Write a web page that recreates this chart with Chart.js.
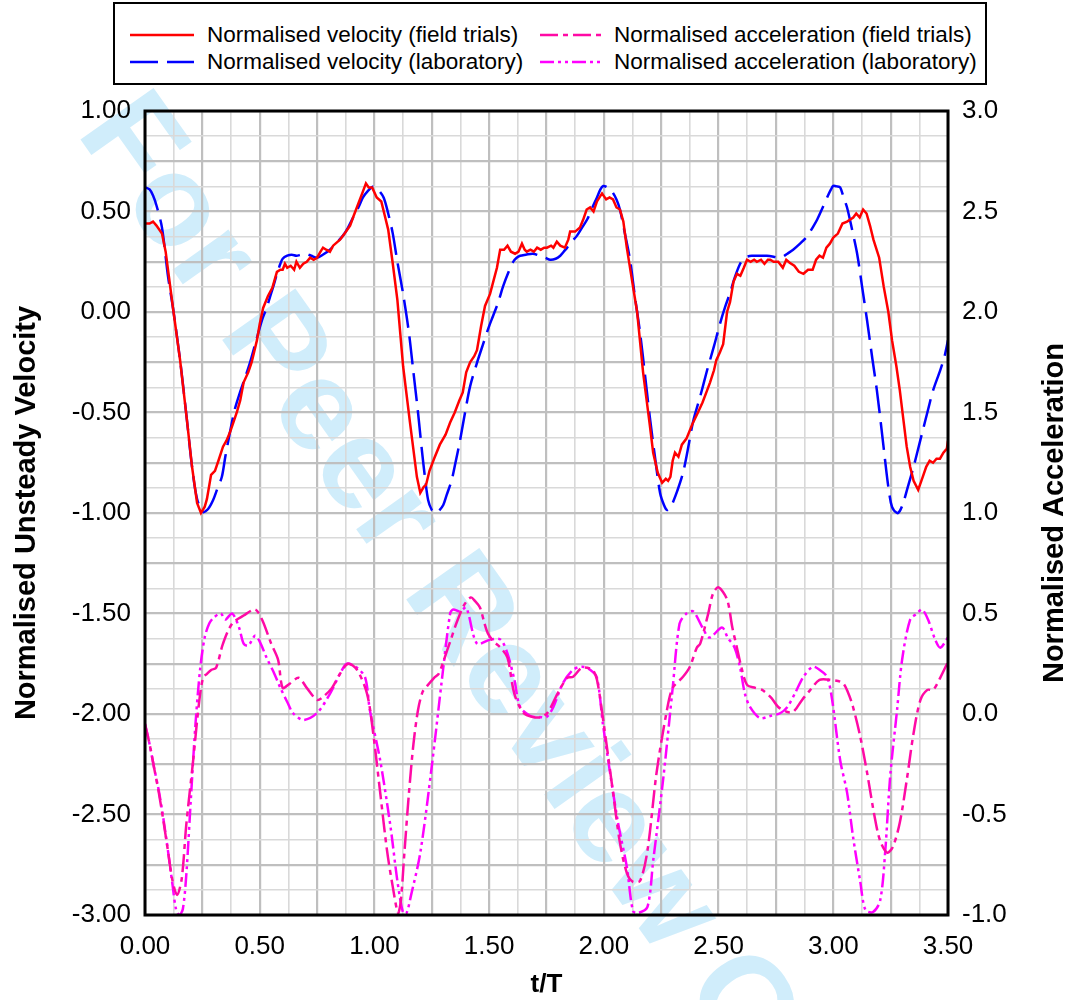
<!DOCTYPE html>
<html>
<head>
<meta charset="utf-8">
<script src="https://cdn.jsdelivr.net/npm/chart.js@4.4.1/dist/chart.umd.min.js"></script>
<style>
  body { margin: 0; background: #fff; }
  #wrap { position: relative; width: 1075px; height: 1000px; }
  #legend { position: absolute; left: 113px; top: 2px; width: 870px; height: 79px; border: 2px solid #000; background: #fff;
            font-family: "Liberation Sans", Arial, sans-serif; font-size: 22.5px; color: #000; }
  .item { position: absolute; white-space: nowrap; line-height: 24px; }
  .item svg { position: absolute; top: 2px; }
  .item span { position: absolute; top: 0; }
</style>
</head>
<body>
<div id="wrap">
  <canvas id="myChart" width="1075" height="1000"></canvas>
  <div id="legend"></div>
</div>
<script>
// velocity, field trials (left axis)
const velFieldT = [0,0.02,0.035,0.05,0.074,0.09,0.122,0.153,0.183,0.205,0.227,0.244,0.26,0.27,0.288,0.305,0.32,0.34,0.355,0.37,0.385,0.4,0.415,0.43,0.45,0.465,0.488,0.5,0.515,0.536,0.555,0.575,0.59,0.6,0.61,0.62,0.635,0.65,0.66,0.675,0.69,0.705,0.72,0.735,0.75,0.765,0.776,0.79,0.806,0.82,0.85,0.87,0.894,0.91,0.93,0.95,0.963,0.975,0.99,1.01,1.03,1.045,1.06,1.08,1.1,1.125,1.155,1.185,1.2,1.215,1.225,1.24,1.26,1.285,1.31,1.33,1.35,1.37,1.385,1.4,1.417,1.435,1.447,1.465,1.482,1.504,1.52,1.534,1.548,1.565,1.58,1.595,1.613,1.628,1.643,1.655,1.664,1.68,1.695,1.709,1.725,1.74,1.752,1.77,1.78,1.795,1.81,1.83,1.845,1.853,1.875,1.896,1.91,1.925,1.94,1.955,1.97,1.992,2.01,2.025,2.04,2.055,2.07,2.085,2.1,2.128,2.145,2.171,2.2,2.215,2.235,2.254,2.27,2.28,2.29,2.3,2.31,2.325,2.34,2.36,2.385,2.41,2.43,2.45,2.463,2.48,2.49,2.506,2.52,2.537,2.55,2.565,2.58,2.595,2.61,2.624,2.64,2.655,2.667,2.685,2.7,2.715,2.725,2.74,2.76,2.78,2.795,2.81,2.83,2.85,2.87,2.89,2.91,2.925,2.94,2.955,2.97,2.985,3.0,3.02,3.04,3.06,3.087,3.1,3.115,3.13,3.145,3.16,3.175,3.2,3.22,3.24,3.256,3.275,3.29,3.305,3.32,3.335,3.35,3.37,3.39,3.405,3.42,3.435,3.45,3.465,3.48,3.495,3.5];
const velFieldV = [0.44,0.44,0.45,0.43,0.39,0.30,0.02,-0.24,-0.54,-0.77,-0.95,-1.0,-0.97,-0.93,-0.81,-0.79,-0.74,-0.67,-0.64,-0.60,-0.55,-0.50,-0.44,-0.35,-0.30,-0.25,-0.14,-0.06,0.02,0.08,0.12,0.20,0.21,0.21,0.24,0.22,0.23,0.21,0.25,0.22,0.24,0.25,0.27,0.26,0.27,0.30,0.32,0.31,0.30,0.33,0.36,0.39,0.43,0.48,0.54,0.60,0.64,0.62,0.62,0.57,0.55,0.48,0.41,0.24,0.06,-0.27,-0.55,-0.82,-0.90,-0.87,-0.86,-0.79,-0.73,-0.66,-0.61,-0.55,-0.50,-0.44,-0.40,-0.30,-0.25,-0.22,-0.19,-0.07,0.03,0.09,0.16,0.22,0.31,0.31,0.33,0.30,0.29,0.30,0.34,0.31,0.30,0.31,0.30,0.32,0.31,0.32,0.32,0.33,0.32,0.35,0.33,0.32,0.36,0.40,0.40,0.42,0.46,0.51,0.52,0.50,0.55,0.59,0.56,0.57,0.56,0.52,0.51,0.45,0.32,0.12,0.0,-0.30,-0.56,-0.70,-0.80,-0.85,-0.83,-0.84,-0.82,-0.74,-0.70,-0.72,-0.66,-0.63,-0.56,-0.50,-0.45,-0.39,-0.35,-0.29,-0.24,-0.20,-0.16,0.0,0.05,0.15,0.19,0.18,0.22,0.26,0.25,0.26,0.25,0.26,0.24,0.26,0.26,0.25,0.25,0.22,0.26,0.245,0.23,0.20,0.19,0.21,0.21,0.26,0.28,0.27,0.32,0.34,0.37,0.39,0.44,0.45,0.47,0.49,0.47,0.51,0.49,0.43,0.36,0.27,0.125,0.0,-0.14,-0.27,-0.39,-0.53,-0.67,-0.77,-0.84,-0.885,-0.82,-0.77,-0.74,-0.75,-0.73,-0.73,-0.70,-0.68,-0.64];

// velocity, laboratory (left axis)
const velLabT = [0,0.02,0.035,0.05,0.074,0.1,0.122,0.153,0.183,0.205,0.227,0.253,0.275,0.297,0.315,0.335,0.35,0.37,0.39,0.414,0.435,0.458,0.485,0.51,0.53,0.545,0.56,0.575,0.59,0.6,0.62,0.64,0.66,0.68,0.7,0.725,0.75,0.775,0.806,0.835,0.863,0.885,0.907,0.93,0.95,0.97,0.995,1.015,1.04,1.06,1.08,1.1,1.125,1.15,1.17,1.19,1.207,1.22,1.234,1.25,1.264,1.28,1.3,1.315,1.337,1.355,1.373,1.395,1.417,1.445,1.475,1.5,1.517,1.54,1.56,1.585,1.605,1.62,1.635,1.66,1.69,1.72,1.745,1.766,1.79,1.81,1.825,1.84,1.86,1.883,1.905,1.927,1.95,1.97,1.985,1.997,2.015,2.035,2.055,2.07,2.09,2.114,2.135,2.158,2.18,2.2,2.225,2.245,2.262,2.275,2.29,2.3,2.32,2.345,2.365,2.39,2.42,2.45,2.48,2.507,2.53,2.55,2.57,2.594,2.61,2.624,2.645,2.667,2.69,2.71,2.74,2.76,2.78,2.8,2.825,2.855,2.885,2.91,2.93,2.95,2.973,2.99,3.0,3.015,3.03,3.045,3.06,3.08,3.104,3.125,3.147,3.17,3.19,3.21,3.226,3.24,3.256,3.278,3.29,3.305,3.325,3.35,3.37,3.39,3.41,3.435,3.466,3.485,3.5];
const velLabV = [0.62,0.61,0.58,0.53,0.42,0.18,0.02,-0.24,-0.54,-0.77,-0.93,-0.995,-0.98,-0.935,-0.88,-0.82,-0.72,-0.60,-0.49,-0.40,-0.33,-0.25,-0.14,-0.04,0.02,0.075,0.13,0.19,0.24,0.265,0.28,0.285,0.28,0.285,0.29,0.28,0.27,0.285,0.31,0.345,0.38,0.42,0.47,0.52,0.57,0.60,0.625,0.61,0.57,0.49,0.39,0.25,0.09,-0.10,-0.30,-0.50,-0.69,-0.82,-0.935,-0.985,-1.0,-0.99,-0.96,-0.91,-0.835,-0.74,-0.64,-0.50,-0.37,-0.26,-0.155,-0.07,-0.02,0.05,0.125,0.20,0.25,0.27,0.28,0.285,0.29,0.28,0.27,0.26,0.265,0.28,0.30,0.32,0.35,0.38,0.42,0.46,0.52,0.57,0.61,0.627,0.62,0.60,0.56,0.51,0.40,0.26,0.08,-0.105,-0.32,-0.52,-0.74,-0.90,-0.96,-0.985,-0.975,-0.95,-0.89,-0.80,-0.69,-0.54,-0.42,-0.29,-0.17,-0.055,0.03,0.095,0.17,0.24,0.265,0.275,0.28,0.28,0.28,0.28,0.275,0.27,0.275,0.29,0.31,0.34,0.375,0.42,0.46,0.51,0.57,0.61,0.627,0.625,0.62,0.57,0.52,0.42,0.29,0.13,-0.04,-0.23,-0.39,-0.58,-0.74,-0.87,-0.97,-1.0,-0.99,-0.95,-0.87,-0.77,-0.68,-0.59,-0.50,-0.39,-0.29,-0.22,-0.14];

// acceleration, field trials (right axis)
const accFieldT = [0,0.02,0.04,0.06,0.08,0.1,0.12,0.14,0.16,0.18,0.21,0.235,0.253,0.27,0.29,0.31,0.34,0.38,0.43,0.48,0.51,0.55,0.58,0.6,0.63,0.67,0.705,0.75,0.776,0.815,0.85,0.885,0.924,0.968,0.994,1.025,1.055,1.08,1.103,1.115,1.13,1.15,1.17,1.19,1.21,1.23,1.26,1.28,1.3,1.33,1.36,1.39,1.42,1.44,1.46,1.48,1.495,1.52,1.55,1.58,1.61,1.65,1.69,1.73,1.757,1.8,1.84,1.866,1.905,1.95,1.97,1.997,2.04,2.07,2.1,2.127,2.158,2.19,2.23,2.275,2.3,2.345,2.375,2.405,2.42,2.455,2.476,2.5,2.537,2.56,2.58,2.6,2.624,2.66,2.69,2.73,2.76,2.8,2.825,2.864,2.9,2.94,2.986,3.04,3.065,3.086,3.117,3.147,3.18,3.204,3.235,3.26,3.29,3.32,3.35,3.38,3.41,3.435,3.466,3.5];
const accFieldV = [-0.05,-0.15,-0.27,-0.39,-0.53,-0.68,-0.83,-0.90,-0.82,-0.55,-0.23,0.05,0.18,0.20,0.22,0.23,0.35,0.45,0.49,0.52,0.47,0.35,0.27,0.13,0.15,0.18,0.13,0.07,0.085,0.13,0.20,0.25,0.22,0.10,-0.09,-0.39,-0.68,-0.86,-0.99,-0.93,-0.70,-0.40,-0.15,0.02,0.11,0.14,0.18,0.20,0.26,0.36,0.46,0.54,0.58,0.56,0.53,0.45,0.40,0.36,0.33,0.28,0.10,0.005,-0.015,-0.015,0.01,0.105,0.18,0.185,0.23,0.22,0.17,-0.03,-0.39,-0.64,-0.79,-0.835,-0.83,-0.68,-0.29,0.02,0.13,0.185,0.235,0.33,0.35,0.50,0.60,0.63,0.57,0.43,0.33,0.23,0.145,0.13,0.12,0.08,0.035,0.01,0.01,0.07,0.12,0.17,0.17,0.155,0.105,0.035,-0.11,-0.29,-0.51,-0.63,-0.69,-0.66,-0.54,-0.33,-0.095,0.07,0.12,0.12,0.18,0.26];

// acceleration, laboratory (right axis)
const accLabT = [0,0.02,0.04,0.06,0.08,0.1,0.12,0.135,0.15,0.165,0.18,0.2,0.22,0.24,0.26,0.28,0.3,0.33,0.35,0.38,0.41,0.43,0.45,0.48,0.5,0.53,0.56,0.59,0.62,0.645,0.69,0.75,0.806,0.85,0.88,0.924,0.96,0.98,1.025,1.07,1.1,1.125,1.14,1.16,1.2,1.25,1.295,1.33,1.343,1.373,1.4,1.447,1.504,1.55,1.58,1.61,1.635,1.68,1.72,1.75,1.78,1.82,1.866,1.905,1.94,1.97,1.997,2.06,2.1,2.127,2.15,2.19,2.215,2.26,2.3,2.33,2.36,2.39,2.43,2.46,2.515,2.54,2.57,2.594,2.615,2.637,2.68,2.725,2.77,2.8,2.834,2.87,2.91,2.94,2.973,2.995,3.03,3.06,3.086,3.117,3.14,3.173,3.204,3.226,3.248,3.278,3.3,3.335,3.365,3.387,3.413,3.444,3.466,3.5];
const accLabV = [-0.05,-0.15,-0.27,-0.38,-0.52,-0.68,-0.85,-0.97,-1.0,-0.97,-0.80,-0.42,-0.05,0.22,0.38,0.45,0.48,0.50,0.47,0.50,0.43,0.35,0.34,0.39,0.36,0.28,0.21,0.13,0.06,0.005,-0.03,0.005,0.10,0.20,0.25,0.23,0.18,0.02,-0.23,-0.56,-0.83,-0.99,-0.99,-0.90,-0.69,-0.26,0.18,0.50,0.52,0.51,0.53,0.35,0.37,0.37,0.30,0.17,0.035,-0.01,-0.015,-0.015,0.035,0.15,0.22,0.235,0.22,0.18,-0.06,-0.53,-0.76,-0.98,-0.99,-0.96,-0.73,-0.31,0.13,0.45,0.50,0.51,0.43,0.38,0.43,0.38,0.33,0.23,0.10,0.035,-0.02,-0.01,0.005,0.035,0.105,0.185,0.235,0.22,0.185,0.07,-0.23,-0.39,-0.61,-0.83,-0.975,-0.985,-0.93,-0.69,-0.31,0.02,0.27,0.47,0.50,0.52,0.47,0.37,0.33,0.38];

const seriesNames = [
  "Normalised velocity (field trials)",
  "Normalised velocity (laboratory)",
  "Normalised acceleration (field trials)",
  "Normalised acceleration (laboratory)"
];
const leftTitle = "Normalised Unsteady Velocity";
const rightTitle = "Normalised Acceleration";
const xTitle = "t/T";
const watermarkText = "For Peer Review Only";

function pts(xs, ys) {
  return xs.map((x, i) => ({ x: x, y: ys[i] }));
}

const styles = [
  { color: "#ff0000", dash: [], width: 2.5, tension: 0 },
  { color: "#0000ff", dash: [28, 9], width: 2.5, tension: 0.3 },
  { color: "#ff0aa5", dash: [18, 5, 5, 5], width: 2.5, tension: 0.3 },
  { color: "#ff00ff", dash: [14, 4, 3, 4, 3, 4], width: 2.5, tension: 0.3 }
];

const FONT = "'Liberation Sans', Arial, sans-serif";

function isMajor(v, step) {
  return Math.abs(v / step - Math.round(v / step)) < 1e-6;
}

function gridColor(ctx) {
  return isMajor(ctx.tick.value, 0.25) ? "#bfbfbf" : "#d9d9d9";
}
function gridWidth(ctx) {
  return isMajor(ctx.tick.value, 0.25) ? 2.2 : 1.6;
}

const watermark = {
  id: "watermark",
  beforeDraw(chart) {
    const c = chart.ctx;
    c.save();
    c.fillStyle = "#fff";
    c.fillRect(0, 0, chart.width, chart.height);
    c.translate(172, 210);
    c.rotate(54.7 * Math.PI / 180);
    c.font = "bold 130px " + FONT;
    c.fillStyle = "#d0edfb";
    c.textBaseline = "alphabetic";
    c.fillText(watermarkText, -119, 34);
    c.restore();
  }
};

// plot frame and the right axis title (reads bottom to top, like the left one)
const frame = {
  id: "frame",
  afterDatasetsDraw(chart) {
    const a = chart.chartArea;
    const c = chart.ctx;
    c.save();
    c.strokeStyle = "#000";
    c.lineWidth = 3;
    c.strokeRect(a.left, a.top, a.right - a.left, a.bottom - a.top);
    c.translate(1055, (a.top + a.bottom) / 2);
    c.rotate(-Math.PI / 2);
    c.font = "bold 29px " + FONT;
    c.fillStyle = "#000";
    c.textAlign = "center";
    c.textBaseline = "middle";
    c.fillText(rightTitle, 0, 0);
    c.restore();
  }
};

const option = {
  type: "line",
  data: {
    datasets: [
      { label: seriesNames[0], data: pts(velFieldT, velFieldV), yAxisID: "y" },
      { label: seriesNames[1], data: pts(velLabT, velLabV), yAxisID: "y" },
      { label: seriesNames[2], data: pts(accFieldT, accFieldV), yAxisID: "y1" },
      { label: seriesNames[3], data: pts(accLabT, accLabV), yAxisID: "y1" }
    ].map((d, i) => Object.assign(d, {
      borderColor: styles[i].color,
      backgroundColor: styles[i].color,
      borderDash: styles[i].dash,
      borderWidth: styles[i].width,
      tension: styles[i].tension,
      pointRadius: 0,
      fill: false
    }))
  },
  options: {
    responsive: false,
    devicePixelRatio: 1,
    animation: false,
    layout: { padding: { top: 111, left: 0, right: 0, bottom: 0 } },
    plugins: { legend: { display: false }, tooltip: { enabled: false } },
    scales: {
      x: {
        type: "linear", min: 0, max: 3.5,
        afterFit: s => { s.height = 85; },
        ticks: {
          stepSize: 0.125, autoSkip: false, maxRotation: 0, padding: 16,
          color: "#000", font: { family: FONT, size: 26 },
          callback: v => isMajor(v, 0.5) ? v.toFixed(2) : ""
        },
        grid: { color: gridColor, lineWidth: gridWidth, drawTicks: false },
        border: { display: false },
        title: { display: true, text: xTitle, color: "#000", font: { family: FONT, size: 26, weight: "bold" }, padding: { top: 0, bottom: 0 } }
      },
      y: {
        position: "left", min: -3, max: 1,
        afterFit: s => { s.width = 145; },
        ticks: {
          stepSize: 0.125, autoSkip: false, padding: 14,
          color: "#000", font: { family: FONT, size: 26 },
          callback: v => isMajor(v, 0.5) ? v.toFixed(2) : ""
        },
        grid: { color: gridColor, lineWidth: gridWidth, drawTicks: false },
        border: { display: false },
        title: { display: true, text: leftTitle, color: "#000", font: { family: FONT, size: 29, weight: "bold" }, padding: { top: 10, bottom: 0 } }
      },
      y1: {
        position: "right", min: -1, max: 3,
        afterFit: s => { s.width = 127; },
        ticks: {
          stepSize: 0.125, autoSkip: false, padding: 14,
          color: "#000", font: { family: FONT, size: 26 },
          callback: v => isMajor(v, 0.5) ? v.toFixed(1) : ""
        },
        grid: { display: false, drawTicks: false },
        border: { display: false },
        title: { display: false }
      }
    }
  },
  plugins: [watermark, frame]
};

const myChart = new Chart(document.getElementById("myChart"), option);

// legend: two columns, line sample + label
const legendPos = [
  { left: 15, top: 19, tx: 92 },
  { left: 15, top: 46, tx: 92 },
  { left: 425, top: 19, tx: 499 },
  { left: 425, top: 46, tx: 499 }
];
const legend = document.getElementById("legend");
seriesNames.forEach((name, i) => {
  const p = legendPos[i];
  const st = styles[i];
  const div = document.createElement("div");
  div.className = "item";
  div.style.left = p.left + "px";
  div.style.top = p.top + "px";
  div.innerHTML =
    '<svg width="64" height="20"><line x1="0" y1="10" x2="64" y2="10" stroke="' + st.color +
    '" stroke-width="2.5" stroke-dasharray="' + (st.dash.length ? st.dash.join(" ") : "none") + '"/></svg>' +
    '<span style="left:' + (p.tx - p.left) + 'px">' + name + '</span>';
  legend.appendChild(div);
});
</script>
</body>
</html>
